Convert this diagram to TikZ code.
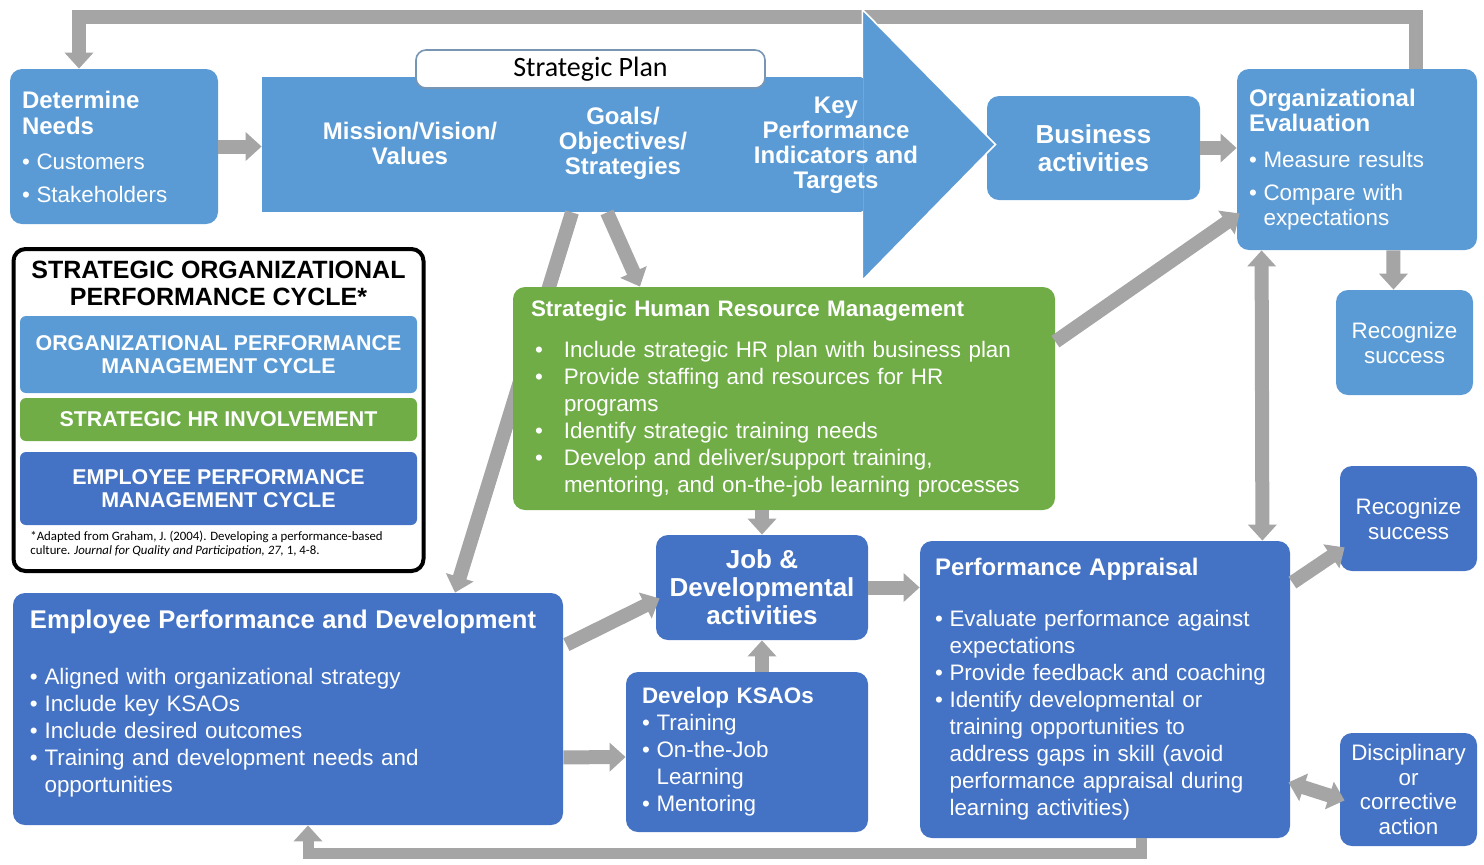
\documentclass[tikz,border=0pt]{standalone}
\usepackage{fontspec}
\setmainfont{Liberation Sans}
\newfontfamily\calibri{Carlito}
\usetikzlibrary{calc}
\usetikzlibrary{positioning}
\usetikzlibrary{arrows.meta}

\definecolor{lightblue}{RGB}{91,155,213}
\definecolor{midblue}{RGB}{68,114,196}
\definecolor{hrgreen}{RGB}{112,173,71}
\definecolor{flowgray}{RGB}{165,165,165}
\definecolor{labelline}{RGB}{120,150,180}

\newcommand{\bul}[1][0.65em]{\makebox[#1][l]{\textbullet}}
\newcommand{\ind}[1][0.65em]{\hspace*{#1}}

\tikzset{
  basebox/.style={rounded corners=6pt, text=white, align=left, inner sep=0pt,
    font=\fontsize{11.2}{13.5}\selectfont},
  orgbox/.style={basebox, fill=lightblue},
  empbox/.style={basebox, fill=midblue},
  hrbox/.style={basebox, fill=hrgreen},
  plantext/.style={text=white, align=center, font=\bfseries\fontsize{12}{12.5}\selectfont},
  legbar/.style={rounded corners=3pt, text=white, align=center, inner sep=0pt,
    minimum width=198.5pt, font=\bfseries\fontsize{10.7}{11.5}\selectfont},
  flow/.style={draw=flowgray, line width=7pt, -{Triangle[length=8pt,width=14pt]}},
  twoway/.style={draw=flowgray, line width=7pt,
    {Triangle[length=8pt,width=14pt]}-{Triangle[length=8pt,width=14pt]}}
}

\begin{document}
\begin{tikzpicture}[x=0.5pt, y=-0.5pt]
        \useasboundingbox (0,0) rectangle (1484,864);
        \node[orgbox, minimum width=104pt, minimum height=77.5pt, text width=92pt] (need) at (114,146.5)
          {\textbf{\fontsize{12}{13}\selectfont Determine\\[-0.5pt]Needs}\\[4pt]\bul Customers\\[3pt]\bul Stakeholders};
        \node[fill=lightblue, minimum width=300pt, minimum height=67.5pt, inner sep=0pt] (plan) at (562,144.5) {};
        \node[orgbox, align=center, minimum width=106.5pt, minimum height=52pt,
          font=\bfseries\fontsize{13}{14}\selectfont] (bus) at (1093.5,148) {Business\\activities};
        \node[orgbox, minimum width=120pt, minimum height=90.5pt, text width=108pt] (orgev) at (1357,159.5)
          {\textbf{\fontsize{12}{13}\selectfont Organizational\\[-1pt]Evaluation}\\[4.5pt]\bul Measure results\\[3pt]\bul Compare with\\[-1pt]\ind expectations};
        \node[orgbox, align=center, minimum width=68.5pt, minimum height=52.5pt,
          font=\fontsize{11.2}{12.5}\selectfont] (recorg) at (1404.5,342.5) {Recognize\\success};
        \node[empbox, align=center, minimum width=68.5pt, minimum height=52.5pt,
          font=\fontsize{11.2}{12.5}\selectfont] (recemp) at (1408.5,518.5) {Recognize\\success};
        \node[empbox, align=center, minimum width=68.5pt, minimum height=56.5pt,
          font=\fontsize{11.2}{12.25}\selectfont] (disc) at (1408.5,789.5) {Disciplinary\\or\\corrective\\action};
        \node[empbox, minimum width=275pt, minimum height=116pt, text width=258pt] (epd) at (288,709)
          {\textbf{\fontsize{12.8}{13.5}\selectfont Employee Performance and Development}\\[14.5pt]
           \bul Aligned with organizational strategy\\
           \bul Include key KSAOs\\
           \bul Include desired outcomes\\
           \bul Training and development needs and\\
           \ind opportunities\\[-6pt]\mbox{}};
        \draw[flow] ($(plan.south)+(10,0)$) -- ($(epd.north)+(167,0)$);
        \node[hrbox, minimum width=271pt, minimum height=111.5pt, text width=253pt] (hrm) at (784,398.5)
          {\textbf{Strategic Human Resource Management}\\[7pt]
           \ind[2pt]\bul[14.5pt]Include strategic HR plan with business plan\\
           \ind[2pt]\bul[14.5pt]Provide staffing and resources for HR\\
           \ind[16.5pt]programs\\
           \ind[2pt]\bul[14.5pt]Identify strategic training needs\\
           \ind[2pt]\bul[14.5pt]Develop and deliver/support training,\\
           \ind[16.5pt]mentoring, and on-the-job learning processes};
        \node[empbox, align=center, minimum width=106pt, minimum height=52.5pt,
          font=\bfseries\fontsize{13}{14}\selectfont] (job) at (762,587.5) {Job \&\\Developmental\\activities};
        \node[empbox, minimum width=121pt, minimum height=80pt, text width=105pt] (ksao) at (747,752)
          {\textbf{Develop KSAOs}\\\bul Training\\\bul On-the-Job\\\ind Learning\\\bul Mentoring};
        \node[empbox, minimum width=185pt, minimum height=148.5pt, text width=170pt] (pa) at (1105,689.5)
          {\textbf{\fontsize{12}{13.5}\selectfont Performance Appraisal}\\[12pt]
           \bul Evaluate performance against\\\ind expectations\\
           \bul Provide feedback and coaching\\
           \bul Identify developmental or\\\ind training opportunities to\\
           \ind address gaps in skill (avoid\\\ind performance appraisal during\\
           \ind learning activities)};

        \draw[flow] ($(orgev.north east)+(-61,0)$) -- ++(0,-52) -| ($(need.north)+(-35,0)$);
        \fill[lightblue, draw=white, line width=0.8pt] ($(plan.north east)+(0,-67)$) -- ($(plan.east)+(133,0)$)
          -- ($(plan.south east)+(0,68)$) -- cycle;
        \fill[lightblue] ($(plan.north east)+(-1,1)$) rectangle ($(plan.south east)+(1,-1)$);
        \node[draw=labelline, fill=white, line width=0.8pt, rounded corners=5pt, minimum width=174.5pt,
          minimum height=19pt, inner sep=0pt, font=\calibri\fontsize{14}{14}\selectfont] (label) at (590.5,69) {Strategic Plan};
        \node[plantext] (mission) at (410,143) {Mission/Vision/\\Values};
        \node[plantext] (goals) at (623,143) {Goals/\\Objectives/\\Strategies};
        \node[plantext] (kpi) at (836,145) {Key\\Performance\\Indicators and\\Targets};

        \node[draw=black, line width=2pt, rounded corners=6pt, minimum width=205pt, minimum height=161pt,
          inner sep=0pt] (legend) at (218.5,410) {};
        \node[align=center, font=\bfseries\fontsize{12.5}{13.5}\selectfont] (legtitle) at (218.5,283)
          {STRATEGIC ORGANIZATIONAL\\PERFORMANCE CYCLE*};
        \node[legbar, fill=lightblue, minimum height=38.5pt] (legorg) at (218.5,354.5)
          {ORGANIZATIONAL PERFORMANCE\\MANAGEMENT CYCLE};
        \node[legbar, fill=hrgreen, minimum height=21.5pt] (leghr) at (218.5,419.5) {STRATEGIC HR INVOLVEMENT};
        \node[legbar, fill=midblue, minimum height=36.5pt] (legemp) at (218.5,488.5)
          {EMPLOYEE PERFORMANCE\\MANAGEMENT CYCLE};
        \node[anchor=north west, align=left, inner sep=0pt, font=\calibri\fontsize{6.4}{7.1}\selectfont] (source) at (30,531)
          {*Adapted from Graham, J. (2004). Developing a performance-based\\
           culture. \textit{Journal for Quality and Participation, 27,} 1, 4-8.};

        \draw[flow] (need.east) -- (need.east -| plan.west);
        \draw[flow] (bus.east) -- (bus.east -| orgev.west);
        \draw[flow] ($(orgev.south east)+(-84,0)$) -- ($(recorg.north)+(-11,0)$);
        \draw[flow] ($(plan.south)+(45,0)$) -- ($(hrm.north)+(-144,0)$);
        \draw[flow] ($(hrm.north east)+(0,55)$) -- ($(orgev.south west)+(3,-37)$);
        \draw[twoway] ($(orgev.south west)+(25,0)$) -- ($(pa.north east)+(-28,0)$);
        \draw[flow] (job.north |- hrm.south) -- (job.north);
        \draw[flow] (job.south |- ksao.north) -- (job.south);
        \draw[flow] ($(epd.north east)+(3,52)$) -- ($(job.south west)+(4,-42)$);
        \draw[flow] ($(epd.south east)+(0,-68)$) -- ($(ksao.west)+(0,5)$);
        \draw[flow] (job.east) -- (job.east -| pa.west);
        \draw[flow] ($(pa.north east)+(2,42)$) -- ($(recemp.south west)+(5,-24)$);
        \draw[twoway] ($(pa.south east)+(-2,-56)$) -- ($(disc.south west)+(5,-46)$);
        \draw[flow, line width=5.5pt] ($(pa.south)+(36,0)$) -- ++(0,15) -| ($(epd.south)+(20,0)$);
      \end{tikzpicture}
\end{document}
